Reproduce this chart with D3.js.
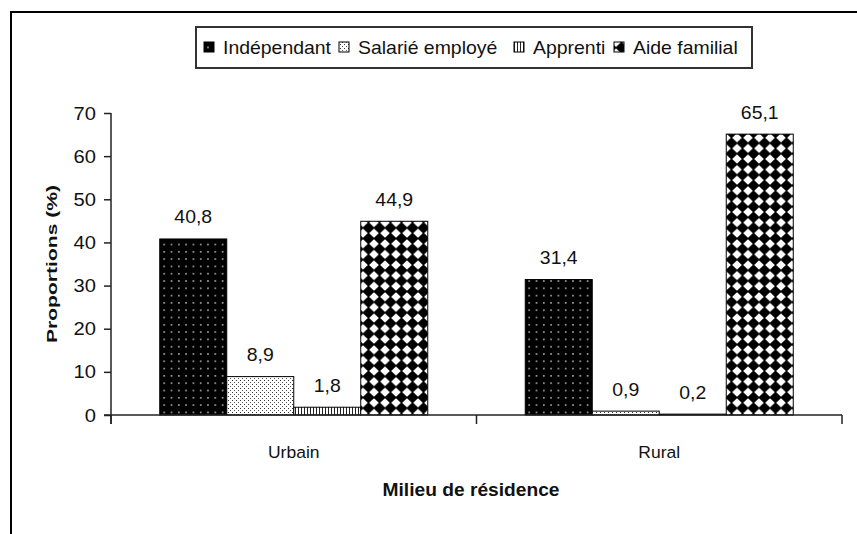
<!DOCTYPE html>
<html><head><meta charset="utf-8">
<script src="https://cdn.jsdelivr.net/npm/d3@7"></script>
<style>body{margin:0;background:#fff}svg{display:block}text{font-family:"Liberation Sans",Arial,sans-serif;fill:#111}</style>
</head><body><svg id="c" width="857" height="534"></svg>
<script>
const categories = ["Urbain", "Rural"];
const seriesNames = ["Indépendant", "Salarié employé", "Apprenti", "Aide familial"];
const independant = [40.8, 31.4];
const salarie = [8.9, 0.9];
const apprenti = [1.8, 0.2];
const aideFamilial = [44.9, 65.1];
const yTicks = [0, 10, 20, 30, 40, 50, 60, 70];
const yTitle = "Proportions (%)";
const xTitle = "Milieu de résidence";

const seriesValues = [independant, salarie, apprenti, aideFamilial];
const svg = d3.select("#c");
const defs = svg.append("defs");

function addText(parent, x, y, str, size, sx, anchor, weight) {
  const g = parent.append("g").attr("transform", `translate(${x},${y}) scale(${sx},1)`);
  return g.append("text").attr("text-anchor", anchor || "start").attr("font-size", size)
    .attr("font-weight", weight || "normal").text(str);
}

// patterns
const p0 = defs.append("pattern").attr("id","p0").attr("patternUnits","userSpaceOnUse").attr("width",7.3).attr("height",7.3);
p0.append("rect").attr("width",7.3).attr("height",7.3).attr("fill","#000");
p0.append("circle").attr("cx",3.6).attr("cy",3.6).attr("r",0.8).attr("fill","#ddd");

const p1 = defs.append("pattern").attr("id","p1").attr("patternUnits","userSpaceOnUse").attr("width",4).attr("height",4);
p1.append("rect").attr("width",4).attr("height",4).attr("fill","#fff");
p1.append("rect").attr("x",0).attr("y",0).attr("width",1).attr("height",1).attr("fill","#333");
p1.append("rect").attr("x",2).attr("y",2).attr("width",1).attr("height",1).attr("fill","#555");

const p2 = defs.append("pattern").attr("id","p2").attr("patternUnits","userSpaceOnUse").attr("width",3).attr("height",3);
p2.append("rect").attr("width",3).attr("height",3).attr("fill","#fff");
p2.append("rect").attr("x",1).attr("width",1).attr("height",3).attr("fill","#222");

const p3 = defs.append("pattern").attr("id","p3").attr("patternUnits","userSpaceOnUse").attr("width",11).attr("height",10.6);
p3.append("rect").attr("width",11).attr("height",10.6).attr("fill","#fff");
p3.append("path").attr("d","M5.5,-0.6 L11.8,5.3 L5.5,11.2 L-0.8,5.3 Z").attr("fill","#000");

const fills = ["url(#p0)","url(#p1)","url(#p2)","url(#p3)"];

// outer frame
svg.append("path").attr("d","M11,540 L11,12 L870,12").attr("fill","none").attr("stroke","#000").attr("stroke-width",2);

// scales
const y = d3.scaleLinear().domain([0,70]).range([415,113]);
const x0 = d3.scaleBand().domain(categories).range([111,842]);
const x1 = d3.scaleBand().domain(seriesNames).range([48.75, 316.75]);

// bars
const g = svg.append("g");
categories.forEach((cat, ci) => {
  seriesNames.forEach((s, si) => {
    const v = seriesValues[si][ci];
    g.append("rect")
      .attr("x", x0(cat) + x1(s))
      .attr("y", y(v))
      .attr("width", x1.bandwidth())
      .attr("height", y(0) - y(v))
      .attr("fill", fills[si])
      .attr("stroke", "#000").attr("stroke-width", 1);
    addText(g, x0(cat) + x1(s) + x1.bandwidth()/2, y(v) - 15.5, String(v).replace(".", ","), 18, 1.08, "middle");
  });
});

// y axis
const yAxis = svg.append("g").attr("transform","translate(111,0)")
  .call(d3.axisLeft(y).tickValues(yTicks).tickSize(7).tickFormat(""));
yAxis.select(".domain").attr("stroke","#222").attr("stroke-width",1.5).attr("d","M0,113V424");
yAxis.selectAll(".tick line").attr("stroke","#222").attr("stroke-width",1.5);
yTicks.forEach(t => addText(svg, 96, y(t) + 6.5, String(t), 18, 1.12, "end"));

// x axis
const xAxis = svg.append("g").attr("transform","translate(0,415)");
xAxis.append("line").attr("x1",104).attr("x2",842).attr("stroke","#222").attr("stroke-width",1.5);
const bounds = [x0.range()[0], x0(categories[1]), x0.range()[1]];
bounds.forEach(b => xAxis.append("line").attr("x1",b).attr("x2",b).attr("y1",0).attr("y2",9).attr("stroke","#222").attr("stroke-width",1.5));
categories.forEach(cat => {
  addText(xAxis, x0(cat) + x1.range()[0] + (x1.range()[1]-x1.range()[0])/2, 43, cat, 17, 1.03, "middle");
});

// titles
svg.append("text").attr("transform","translate(57,264) rotate(-90)").attr("text-anchor","middle")
  .attr("font-size",15).attr("font-weight","bold")
  .attr("textLength",158).attr("lengthAdjust","spacingAndGlyphs").text(yTitle);
svg.append("text").attr("x",471).attr("y",496).attr("text-anchor","middle")
  .attr("font-size",18).attr("font-weight","bold")
  .attr("textLength",177).attr("lengthAdjust","spacingAndGlyphs").text(xTitle);

// legend
const lg = svg.append("g");
lg.append("rect").attr("x",196).attr("y",27).attr("width",556).attr("height",41)
  .attr("fill","#fff").attr("stroke","#333").attr("stroke-width",2);
const legX = [204, 339, 514, 614];
seriesNames.forEach((s, i) => {
  lg.append("rect").attr("x", legX[i]).attr("y", 42).attr("width", 10).attr("height", 10)
    .attr("fill", fills[i]).attr("stroke","#000").attr("stroke-width",1);
  addText(lg, legX[i] + 19, 54, s, 18, 1.08, "start");
});
</script>
</body></html>
